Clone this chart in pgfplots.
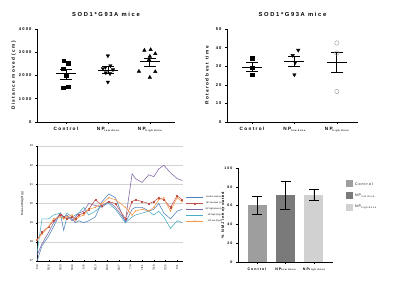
\documentclass[border=0pt]{standalone}
\usepackage{pgfplots}
\pgfplotsset{compat=1.18}
\usepackage{pgfplotstable}
\usepackage{fontspec}
\setmainfont{Liberation Sans}
\newfontfamily\spaced[LetterSpace=28]{Liberation Sans}
\definecolor{s1}{HTML}{4F81BD}
\definecolor{s2}{HTML}{C0504D}
\definecolor{s3}{HTML}{8064A2}
\definecolor{s4}{HTML}{4BACC6}
\definecolor{s5}{HTML}{F79646}
\newcommand{\sub}[1]{\raisebox{-0.6pt}{\fontsize{2.4}{2.4}\selectfont #1}}
\pgfplotstableread{
d   s1    s2    s3    s4    s5
0   17.0  18.1  17.3  17.4  18.1
3   17.8  18.5  17.9  19.2  18.4
7   18.3  18.8  18.5  19.2  18.8
10  18.8  19.1  19.0  19.4  19.2
14  19.5  19.4  19.5  19.5  19.3
16  18.6  19.3  19.3  19.2  19.2
18  19.3  19.2  19.4  19.5  19.3
21  19.2  19.3  19.1  19.3  19.4
23  19.0  19.2  19.3  19.4  19.1
25  19.1  19.4  19.5  19.5  19.3
28  19.0  19.5  19.6  19.8  19.4
31  19.1  19.7  20.0  19.4  19.7
35  19.3  20.2  19.9  19.6  19.8
39  20.1  19.9  19.8  19.9  20.0
43  20.5  20.1  20.1  20.0  20.3
47  20.3  20.0  19.8  19.7  20.2
53  19.0  19.2  19.1  19.0  19.8
57  19.7  20.1  21.55 19.3  19.4
59  19.8  20.2  21.3  19.4  19.6
63  19.8  20.1  21.1  19.5  19.7
67  19.6  20.0  21.5  19.6  19.6
70  19.7  20.1  21.4  19.4  19.8
73  20.0  20.3  21.8  19.6  20.2
76  19.5  20.2  22.0  19.3  20.3
80  19.2  19.8  21.6  18.7  19.6
84  19.6  20.4  21.3  19.1  20.3
87  19.7  20.2  21.2  19.0  20.1
}\weights
\pgfplotsset{
  prism/.style={
    anchor=south west, scale only axis, axis lines=left,
    axis line style={-, line width=0.6pt},
    tick align=outside, tick style={black, line width=0.5pt}, major tick length=2pt,
    x tick label style={font=\spaced\bfseries\fontsize{4.7}{5}\selectfont},
    y tick label style={font=\spaced\bfseries\fontsize{4.1}{5}\selectfont},
    label style={font=\spaced\bfseries\fontsize{4.7}{5.5}\selectfont},
    title style={font=\spaced\bfseries\fontsize{5.8}{6.5}\selectfont, at={(0.5,1)}, anchor=south, yshift=3pt},
    /pgf/number format/assume math mode=true,
    /pgf/number format/1000 sep={},
    scaled y ticks=false,
    xtick={0,1,2},
    xticklabels={Control, NP\sub{low dose}, NP\sub{high dose}},
    clip=false,
  },
  meanbar/.style={only marks, mark=-, mark size=10pt, black, line width=0.8pt,
    error bars/.cd, y dir=both, y explicit,
    error bar style={black, line width=0.7pt},
    error mark options={rotate=90, mark size=6pt, line width=0.7pt}},
}
\begin{document}
\begin{tikzpicture}
\useasboundingbox (0,0) rectangle (400pt,291pt);
% top-left: distance moved
\begin{axis}[prism, at={(37pt,169pt)}, width=138pt, height=93pt,
  xmin=-0.69, xmax=2.6, ymin=0, ymax=4000, ytick={0,1000,...,4000},
  title={SOD1*G93A mice},
  ylabel={Distance moved (cm)},
  ylabel style={at={(axis description cs:-0.17,0.5)}, anchor=center}]
\addplot[only marks, mark=square*, mark size=1.8pt, black] coordinates {
 (-0.05,2638) (0.06,2538) (-0.07,2294) (0,2021) (-0.07,1477) (0.05,1520)};
\addplot[only marks, mark=triangle*, mark options={rotate=180}, mark size=2pt, black] coordinates {
 (1,2850) (0.94,2350) (1.06,2420) (0.88,2300) (1.12,2250) (0.95,2120) (1.05,2080) (1,1720)};
\addplot[only marks, mark=triangle*, mark size=2pt, black] coordinates {
 (1.87,3083) (2.02,3111) (2.13,2939) (2,2824) (1.98,2681) (1.74,2179) (2.13,2165) (2,1921)};
\addplot[meanbar] coordinates {(0,2079) += (0,200) -= (0,229)};
\addplot[meanbar] coordinates {(1,2230) += (0,150) -= (0,140)};
\addplot[meanbar] coordinates {(2,2600) += (0,155) -= (0,205)};
\end{axis}
% top-right: rotarod
\begin{axis}[prism, at={(227pt,169pt)}, width=131pt, height=93pt,
  xmin=-0.59, xmax=2.5, ymin=0, ymax=50, ytick={0,10,...,50},
  title={SOD1*G93A mice},
  ylabel={Rotarod best time},
  ylabel style={at={(axis description cs:-0.153,0.5)}, anchor=center}]
\addplot[only marks, mark=square*, mark size=1.8pt, black] coordinates {
 (0,34.3) (0,29.2) (0,25.4)};
\addplot[only marks, mark=triangle*, mark options={rotate=180}, mark size=2pt, black] coordinates {
 (0.96,35.8) (1.09,38.6) (1.02,32.0) (1,25.4)};
\addplot[only marks, mark=o, mark size=2.2pt, gray!70, line width=0.5pt] coordinates {
 (2,42.5) (2,37.1) (2,16.4)};
\addplot[meanbar] coordinates {(0,29.6) += (0,2.7) -= (0,2.3)};
\addplot[meanbar] coordinates {(1,32.7) += (0,2.7) -= (0,3.0)};
\addplot[meanbar] coordinates {(2,32.0) += (0,5.7) -= (0,5.5)};
\end{axis}
% bottom-left: weights
\begin{axis}[at={(37pt,30pt)}, anchor=south west, scale only axis, width=146pt, height=115pt,
  xmin=0, xmax=87.5, ymin=17, ymax=23, ytick={17,...,23},
  axis x line=bottom, axis y line=left, axis line style={-, line width=0.9pt},
  ymajorgrids, grid style={gray!35, line width=0.4pt},
  major tick length=1.2pt, tick style={black},
  xtick={0,7,...,84},
  xticklabels={5/9,5/16,5/23,5/30,6/6,6/13,6/20,6/27,7/4,7/11,7/18,7/25,8/1},
  x tick label style={rotate=90, anchor=east, font=\fontsize{2.8}{3}\selectfont},
  y tick label style={font=\fontsize{2.8}{3}\selectfont},
  /pgf/number format/assume math mode=true,
  ylabel={Mouse Weight (g)},
  ylabel style={at={(axis description cs:-0.10,0.5)}, anchor=center, font=\fontsize{3}{3.5}\selectfont},
  legend style={at={(axis description cs:1.02,0.45)}, anchor=west, draw=none, fill=none,
    font=\fontsize{2.2}{2.6}\selectfont, inner sep=0pt, row sep=-1.2pt},
  legend image post style={line width=0.5pt},
  every axis plot/.append style={line width=0.55pt},
  clip=false]
\addplot[s1] table[x=d,y=s1]{\weights};
\addplot[s2, mark=square*, mark size=0.6pt] table[x=d,y=s2]{\weights};
\addplot[s3] table[x=d,y=s3]{\weights};
\addplot[s4] table[x=d,y=s4]{\weights};
\addplot[s5, mark=*, mark size=0.4pt] table[x=d,y=s5]{\weights};
\legend{Control male (n=6),NP low dose (n=8),NP high dose (n=8),NP high (Fig.3),NP low (Fig.3)}
\end{axis}
% bottom-right: NMJ
\begin{axis}[prism, at={(238pt,29pt)}, width=95pt, height=94pt,
  xmin=-0.667, xmax=2.667, ymin=0, ymax=100, ytick={0,20,...,100},
  x tick label style={font=\spaced\bfseries\fontsize{3.6}{4}\selectfont},
  y tick label style={font=\spaced\bfseries\fontsize{3.6}{4}\selectfont},
  ylabel={\% NMJ innervated},
  ylabel style={at={(axis description cs:-0.16,0.5)}, anchor=center, font=\spaced\bfseries\fontsize{3.8}{4.5}\selectfont},
  legend style={at={(axis description cs:1.13,0.87)}, anchor=north west, draw=none, fill=none,
    font=\spaced\fontsize{3.6}{4}\selectfont, row sep=3.5pt, inner sep=0pt},
  legend cell align=left,
  legend image code/.code={\fill[#1] (0pt,-3pt) rectangle (7.5pt,4pt);},
  error bars/error bar style={black, line width=0.9pt},
  error bars/error mark options={rotate=90, black, mark size=5pt, line width=0.9pt}]
\addplot[ybar, bar width=19pt, bar shift=0pt, fill=black!38, draw=none,
  error bars/.cd, y dir=both, y explicit] coordinates {(0,61) += (0,9) -= (0,10)};
\addplot[ybar, bar width=19pt, bar shift=0pt, fill=black!52, draw=none,
  error bars/.cd, y dir=both, y explicit] coordinates {(1,71.6) += (0,14.5) -= (0,16)};
\addplot[ybar, bar width=19pt, bar shift=0pt, fill=black!18, draw=none,
  error bars/.cd, y dir=both, y explicit] coordinates {(2,71.3) += (0,5.7) -= (0,6.3)};
\legend{Control, NP\sub{low dose}, NP\sub{high dose}}
\end{axis}
\end{tikzpicture}
\end{document}
